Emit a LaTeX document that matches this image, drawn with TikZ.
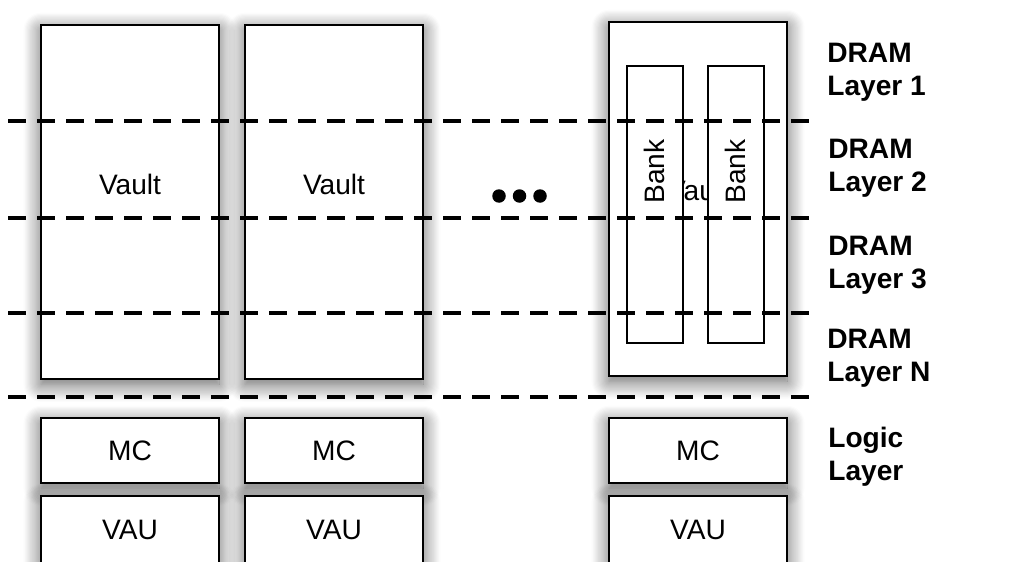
\documentclass[tikz,border=0pt]{standalone}
\usepackage{fontspec}
\setmainfont{Liberation Sans}
\usetikzlibrary{positioning,shadows.blur}

\begin{document}
\begin{tikzpicture}[
  font=\fontsize{16}{18.8}\selectfont,
  soft/.style={blur shadow={shadow xshift=0pt, shadow yshift=-3pt, shadow blur radius=10pt,
    shadow blur steps=16, shadow opacity=65}},
  vault/.style={draw=black, line width=1.5pt, fill=white, minimum width=3.56cm, minimum height=7.08cm, inner sep=0pt, soft},
  bank/.style={draw=black, line width=0.9pt, fill=white, minimum width=1.12cm, minimum height=5.54cm, inner sep=0pt},
  logicbox/.style={draw=black, line width=1.5pt, fill=white, minimum width=3.56cm, minimum height=1.3cm, inner sep=0pt, soft},
  layerlbl/.style={font=\fontsize{16}{18.8}\selectfont\bfseries, align=left, anchor=west, inner sep=0pt},
  sep/.style={line width=2.6pt, dash pattern=on 0.36cm off 0.22cm},
  dot/.style={circle, fill=black, minimum size=0.27cm, inner sep=0pt}
]
\useasboundingbox (0,0) rectangle (20.7,11.22);
\clip (0,0) rectangle (20.7,11.22);

%% ---------- Vaults (DRAM stack) ----------
\node[vault] (vaultA) at (2.6,7.18)  {};
\node at (2.6,7.54) (vaultAtxt) {Vault};
\node[vault] (vaultB) at (6.68,7.18) {};
\node at (6.68,7.54) (vaultBtxt) {Vault};
\node[vault] (vaultN) at (13.96,7.24) {};
\node at (13.96,7.42) (vaultNtxt) {Vault};

% banks sit on top of the last vault's label
\node[bank] (bankA) at (13.10,7.13) {};
\node[rotate=90] (bankAtxt) at (13.08,7.79) {Bank};
\node[bank] (bankB) at (14.72,7.13) {};
\node[rotate=90] (bankBtxt) at (14.70,7.79) {Bank};

\node[dot] (dotA) at (9.98,7.3)  {};
\node[dot] (dotB) at (10.39,7.3) {};
\node[dot] (dotC) at (10.80,7.3) {};

%% ---------- Logic layer ----------
\node[logicbox] (mcA) at (2.6,2.21)   {MC};
\node[logicbox] (mcB) at (6.68,2.21)  {MC};
\node[logicbox] (mcN) at (13.96,2.21) {MC};

\node[logicbox, minimum height=1.36cm] (vauA) at (2.6,0.62)   {VAU};
\node[logicbox, minimum height=1.36cm] (vauB) at (6.68,0.62)  {VAU};
\node[logicbox, minimum height=1.36cm] (vauN) at (13.96,0.62) {VAU};

%% ---------- Layer boundaries ----------
\foreach \y in {8.8, 6.86, 4.96, 3.28}
  \draw[sep] (0.16,\y) -- (16.24,\y);

%% ---------- Layer labels ----------
\node[layerlbl] (layA) at (16.54,9.78) {DRAM\\Layer 1};
\node[layerlbl] (layB) at (16.56,7.86) {DRAM\\Layer 2};
\node[layerlbl] (layC) at (16.56,5.92) {DRAM\\Layer 3};
\node[layerlbl] (layN) at (16.54,4.06) {DRAM\\Layer N};
\node[layerlbl] (logic) at (16.56,2.08) {Logic\\Layer};

\end{tikzpicture}
\end{document}
